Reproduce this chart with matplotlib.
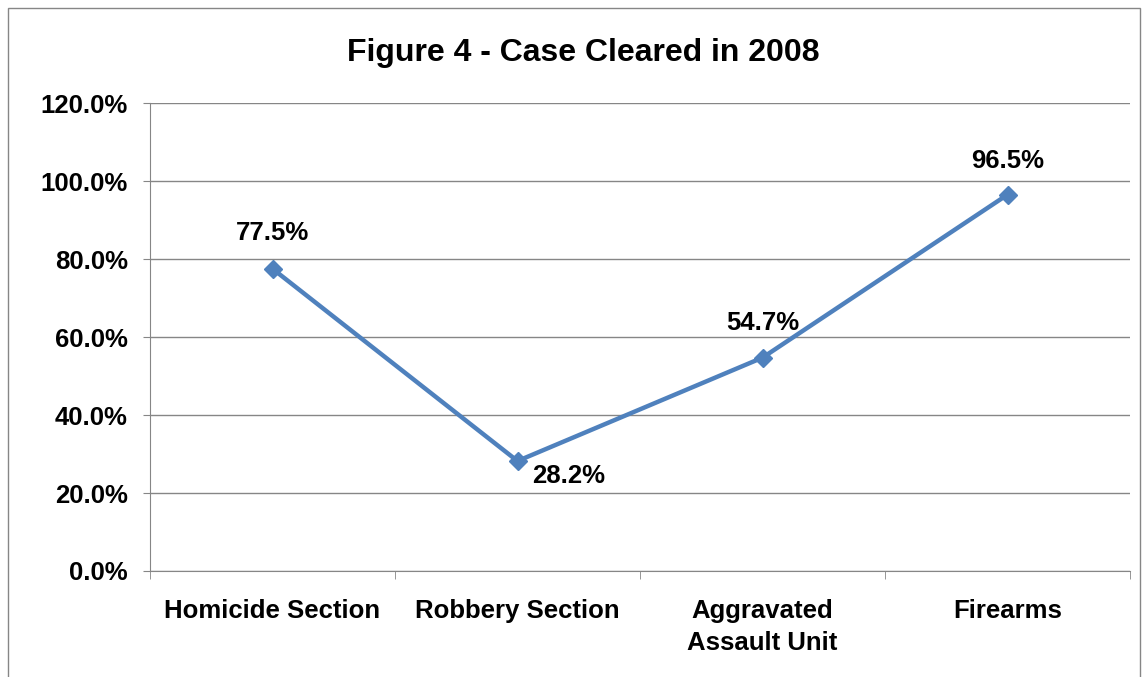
import numpy as np
import matplotlib.pyplot as plt
from matplotlib.patches import Rectangle

plt.rcParams['font.family'] = ['Liberation Sans', 'DejaVu Sans']

categories = ["Homicide Section", "Robbery Section", "Aggravated\nAssault Unit", "Firearms"]
cleared = [77.5, 28.2, 54.7, 96.5]
labels = ["77.5%", "28.2%", "54.7%", "96.5%"]

fig = plt.figure(figsize=(11.46, 6.77), dpi=100)
ax = fig.add_axes([150/1146, 1 - 571/677, (1130-150)/1146, (571-103)/677])

x = np.arange(len(categories))
ax.plot(x, cleared, color="#4F81BD", lw=3.2, marker="D", ms=9, mfc="#4F81BD", mec="#4F81BD", zorder=3)

# data labels (offsets in points)
offsets = [(0, 26), (37, -11), (0, 25), (0, 24)]
for xi, yi, lab, off in zip(x, cleared, labels, offsets):
    ax.annotate(lab, (xi, yi), xytext=off, textcoords="offset points",
                ha="center", va="center", fontsize=18.5, fontweight="bold")

ax.set_xlim(-0.5, 3.5)
ax.set_ylim(0, 120)
ax.set_yticks(np.arange(0, 121, 20))
ax.set_yticklabels([f"{v:.1f}%" for v in np.arange(0, 121, 20)], fontsize=18.5, fontweight="bold")
ax.yaxis.grid(True, color="#868686", lw=1)
ax.set_axisbelow(True)

ax.set_xticks(x)
ax.set_xticklabels(categories, fontsize=18.5, fontweight="bold", linespacing=1.42)
ax.tick_params(axis="x", length=0, pad=20)
ax.set_xticks(np.arange(-0.5, 3.6, 1), minor=True)
ax.tick_params(axis="x", which="minor", length=6, color="#868686", direction="out")
ax.tick_params(axis="y", length=5, color="#868686", direction="out", pad=11)

for s in ["top", "right"]:
    ax.spines[s].set_visible(False)
ax.spines["left"].set_color("#868686")
ax.spines["bottom"].set_color("#868686")

fig.text(583/1146, 1 - 53/677, "Figure 4 - Case Cleared in 2008", ha="center", va="center",
         fontsize=23, fontweight="bold")

fig.patches.append(Rectangle((8/1146, -0.05), (1140-8)/1146, 1 - 8/677 + 0.05, transform=fig.transFigure,
                             fill=False, edgecolor="#868686", lw=1))

fig.savefig("out.png", dpi=100)
